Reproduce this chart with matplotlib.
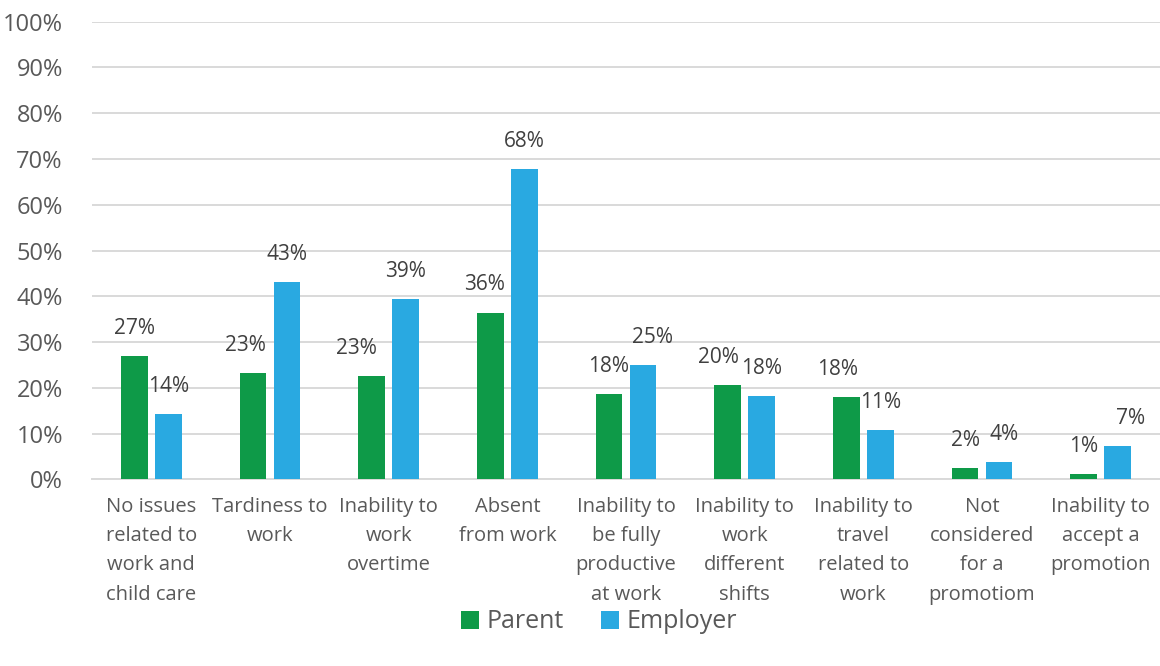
import numpy as np
import matplotlib.pyplot as plt

# chart data
categories = [
    "No issues\nrelated to\nwork and\nchild care",
    "Tardiness to\nwork",
    "Inability to\nwork\novertime",
    "Absent\nfrom work",
    "Inability to\nbe fully\nproductive\nat work",
    "Inability to\nwork\ndifferent\nshifts",
    "Inability to\ntravel\nrelated to\nwork",
    "Not\nconsidered\nfor a\npromotiom",
    "Inability to\naccept a\npromotion",
]
parent = [26.9, 23.2, 22.6, 36.4, 18.6, 20.5, 18.0, 2.4, 1.2]
employer = [14.3, 43.1, 39.4, 67.8, 25.0, 18.1, 10.7, 3.7, 7.3]
parent_labels = ["27%", "23%", "23%", "36%", "18%", "20%", "18%", "2%", "1%"]
employer_labels = ["14%", "43%", "39%", "68%", "25%", "18%", "11%", "4%", "7%"]
y_ticks = [0, 10, 20, 30, 40, 50, 60, 70, 80, 90, 100]

# small horizontal nudges of the data labels (pixels), as placed in the original
parent_dx = [0, -8, -15, -6, 0, -9, -9, 0, 0]
employer_dx = [0, 0, 0, 0, 10, 0, 0, 5, 13]

green = '#0E9A48'
blue = '#29A9E1'
grid_grey = '#D9D9D9'
tick_grey = '#595959'
label_grey = '#404040'

plt.rcParams['font.family'] = ['Open Sans', 'DejaVu Sans']

fig = plt.figure(figsize=(11.6, 6.66), dpi=100)
ax = fig.add_axes([92 / 1160, 1 - 479.3 / 666, 1 - 92 / 1160, (479.3 - 21.7) / 666])

x = np.arange(len(categories))
bar_w = 0.227
offset = 0.143

ax.bar(x - offset, parent, bar_w, color=green, label='Parent', zorder=3)
ax.bar(x + offset, employer, bar_w, color=blue, label='Employer', zorder=3)

# data labels, ~28 px above the bar tops
for i in range(len(categories)):
    ax.annotate(parent_labels[i], (x[i] - offset, parent[i]),
                xytext=(parent_dx[i] * 0.72, 20), textcoords='offset points',
                ha='center', va='center', fontsize=15, color=label_grey)
    ax.annotate(employer_labels[i], (x[i] + offset, employer[i]),
                xytext=(employer_dx[i] * 0.72, 20), textcoords='offset points',
                ha='center', va='center', fontsize=15, color=label_grey)

ax.set_xlim(-0.5, len(categories) - 0.5)
ax.set_ylim(0, 100)
ax.set_yticks(y_ticks)
ax.set_yticklabels([f"{t}%" for t in y_ticks])
ax.set_xticks(x)
ax.set_xticklabels(categories, linespacing=1.62)

ax.tick_params(axis='y', length=0, pad=21, labelsize=17, labelcolor=tick_grey)
ax.tick_params(axis='x', length=0, pad=12.5, labelsize=14.5, labelcolor=tick_grey)

ax.grid(axis='y', color=grid_grey, linewidth=1.4, zorder=0)
ax.set_axisbelow(True)
for side in ['top', 'right', 'left']:
    ax.spines[side].set_visible(False)
ax.spines['bottom'].set_color(grid_grey)
ax.spines['bottom'].set_linewidth(1.4)

fig.legend(loc='center', bbox_to_anchor=(599 / 1160, 1 - 622 / 666), ncol=2,
           frameon=False, fontsize=18, labelcolor=tick_grey,
           handlelength=0.7, handleheight=0.7, handletextpad=0.3, columnspacing=1.5)

fig.savefig('out.png', dpi=100)
